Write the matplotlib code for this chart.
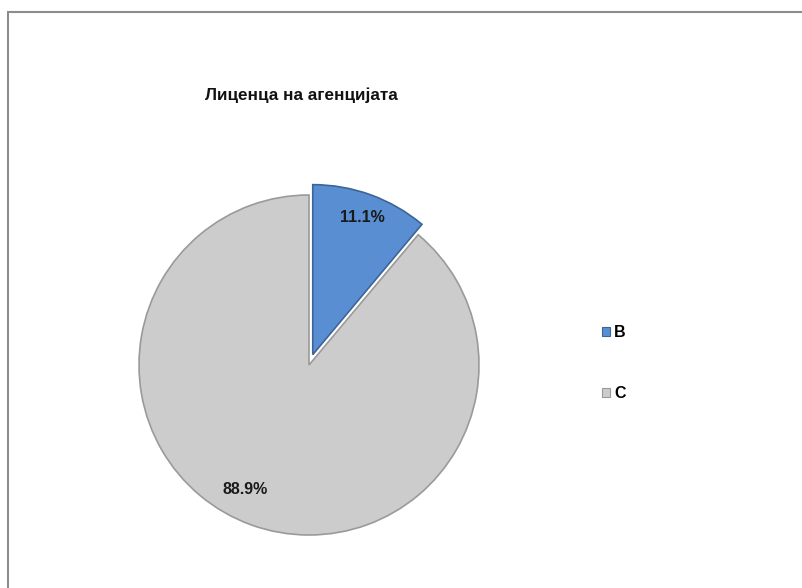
import matplotlib
import matplotlib.pyplot as plt
from matplotlib.patches import Patch, Rectangle

matplotlib.use("Agg")
plt.rcParams["font.family"] = ["Liberation Sans", "DejaVu Sans"]

# Data
title = "Лиценца на агенцијата"
categories = ["B", "C"]
shares = [11.1, 88.9]
colors = ["#5A8ED3", "#CCCCCC"]
edge_colors = ["#3C6496", "#9A9A9A"]
explode_px = [11, 0]

W, H = 802, 588
fig = plt.figure(figsize=(W / 100, H / 100), dpi=100)
ax = fig.add_axes([0, 0, 1, 1])

# pie geometry in pixel units (y up)
cx, cy, r = 309, H - 365, 170

wedges, texts, autotexts = ax.pie(
    shares,
    colors=colors,
    startangle=90,
    counterclock=False,
    explode=explode_px,
    radius=r,
    center=(cx, cy),
    autopct="%1.1f%%",
    pctdistance=0.86,
    wedgeprops=dict(linewidth=1.2),
    textprops=dict(fontsize=11.5, fontweight="bold", color="#1a1a1a"),
)
for w, ec in zip(wedges, edge_colors):
    w.set_edgecolor(ec)
# Excel puts the big slice label a bit further round
autotexts[1].set_position((245, H - 490))

ax.set_xlim(0, W)
ax.set_ylim(0, H)
ax.set_aspect("equal")
ax.axis("off")

# Title
fig.text(301 / W, 1 - 95 / H, title, ha="center", va="center",
         fontsize=12.3, fontweight="bold", color="#111111")

# Legend
handles = [Patch(facecolor=c, edgecolor=ec, linewidth=0.8) for c, ec in zip(colors, edge_colors)]
leg = fig.legend(
    handles, categories,
    loc="upper left",
    bbox_to_anchor=(588 / W, 1 - 311 / H),
    frameon=False,
    handlelength=0.5,
    handleheight=0.5,
    handletextpad=0.25,
    labelspacing=2.88,
    prop=dict(size=11.5, weight="bold"),
)

# Chart area border (top-left corner visible, runs off right/bottom)
fig.patches.append(Rectangle((8 / W, -0.1), 1.2, 1 - 12 / H + 0.1,
                             transform=fig.transFigure, fill=False,
                             edgecolor="#8C8C8C", linewidth=1.5))

fig.savefig("out.png", dpi=100)
plt.close(fig)
